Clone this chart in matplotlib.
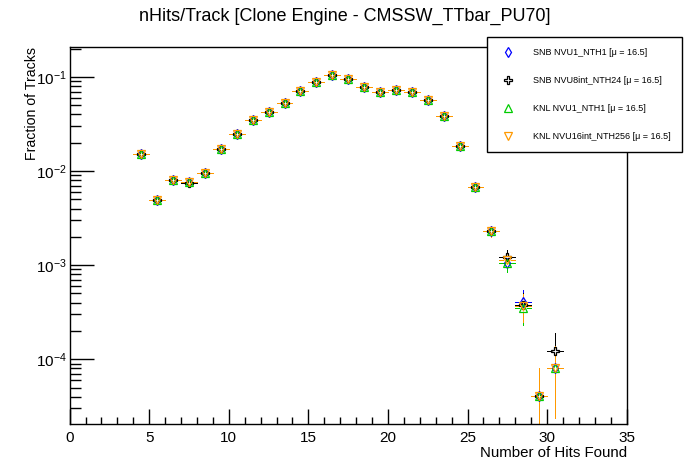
import numpy as np
import matplotlib
matplotlib.use("Agg")
import matplotlib.pyplot as plt
from matplotlib.lines import Line2D

# bin centres (number of hits found)
nhits = [4.5, 5.5, 6.5, 7.5, 8.5, 9.5, 10.5, 11.5, 12.5, 13.5, 14.5, 15.5, 16.5, 17.5,
         18.5, 19.5, 20.5, 21.5, 22.5, 23.5, 24.5, 25.5, 26.5, 27.5, 28.5, 29.5, 30.5]

snb_nvu1 = [0.0151, 0.00487, 0.00802, 0.00769, 0.00946, 0.0171, 0.0246, 0.0347, 0.0422,
            0.0525, 0.0710, 0.0878, 0.104, 0.0952, 0.0783, 0.0688, 0.0732, 0.0688, 0.0574,
            0.0385, 0.0184, 0.00676, 0.00231, 0.00105, 0.000409, 4.07e-5, 8.1e-5]
snb_nvu8 = [0.0151, 0.00487, 0.00802, 0.00745, 0.00946, 0.0171, 0.0246, 0.0347, 0.0422,
            0.0525, 0.0710, 0.0878, 0.104, 0.0952, 0.0783, 0.0688, 0.0732, 0.0688, 0.0574,
            0.0385, 0.0184, 0.00676, 0.00231, 0.00123, 0.000378, 4.07e-5, 1.22e-4]
knl_nvu1 = [0.0151, 0.00487, 0.00802, 0.00769, 0.00946, 0.0171, 0.0246, 0.0347, 0.0422,
            0.0525, 0.0710, 0.0878, 0.104, 0.0952, 0.0783, 0.0688, 0.0732, 0.0688, 0.0574,
            0.0385, 0.0184, 0.00676, 0.00231, 0.00106, 0.000351, 4.07e-5, 8.1e-5]
knl_nvu16 = [0.0151, 0.00487, 0.00802, 0.00769, 0.00946, 0.0171, 0.0246, 0.0347, 0.0422,
             0.0525, 0.0710, 0.0878, 0.104, 0.0952, 0.0783, 0.0688, 0.0732, 0.0688, 0.0574,
             0.0385, 0.0184, 0.00676, 0.00231, 0.00114, 0.000371, 4.07e-5, 8.1e-5]

# statistical errors (mostly hidden under the markers)
err_bulk = [0.00079, 0.00045, 0.00057, 0.00056, 0.00062, 0.00084, 0.0010, 0.0012, 0.0013,
            0.0015, 0.0017, 0.0019, 0.0021, 0.0020, 0.0018, 0.0017, 0.0017, 0.0017, 0.0015,
            0.0013, 0.00087, 0.00053, 0.00031]
err_snb_nvu1 = err_bulk + [0.00021, 0.000129, 4.07e-5, 5.7e-5]
err_snb_nvu8 = err_bulk + [0.000224, 0.000124, 4.07e-5, 7.0e-5]
err_knl_nvu1 = err_bulk + [0.00021, 0.000120, 4.07e-5, 5.7e-5]
err_knl_nvu16 = err_bulk + [0.000216, 0.000123, 4.07e-5, 5.7e-5]

labels = ["SNB NVU1_NTH1 [μ = 16.5]", "SNB NVU8int_NTH24 [μ = 16.5]",
          "KNL NVU1_NTH1 [μ = 16.5]", "KNL NVU16int_NTH256 [μ = 16.5]"]

plt.rcParams['font.family'] = ['Liberation Sans', 'DejaVu Sans']
plt.rcParams['mathtext.fontset'] = 'custom'
plt.rcParams['mathtext.rm'] = 'Liberation Sans'

fig = plt.figure(figsize=(6.96, 4.72), dpi=100)
ax = fig.add_axes([0.1001, 0.1017, 0.8003, 0.7994])

series = [(snb_nvu1, err_snb_nvu1, "#0000ff", "d"),
          (snb_nvu8, err_snb_nvu8, "#000000", "P"),
          (knl_nvu1, err_knl_nvu1, "#00cc00", "^"),
          (knl_nvu16, err_knl_nvu16, "#ff9900", "v")]

ms = 5.5
# error bars first, then a white blank so the bars stop at the marker, then hollow markers
for vals, errs, col, mk in series:
    eb = ax.errorbar(nhits, vals, xerr=0.5, yerr=errs, fmt="none", ecolor=col,
                     elinewidth=0.72, capsize=0, zorder=2)
    for lc in eb.lines[2]:
        lc.set_antialiased(False)
for vals, errs, col, mk in series:
    ax.plot(nhits, vals, ls="none", marker="s", ms=ms * 0.8, mfc="white", mec="none", zorder=3)
handles = []
for (vals, errs, col, mk), lab in zip(series, labels):
    ax.plot(nhits, vals, ls="none", marker=mk, ms=ms, mfc="none", mec=col, mew=0.9, zorder=4)
    handles.append(Line2D([], [], ls="none", marker=mk, ms=ms, mfc="none", mec=col,
                          mew=0.9, label=lab))

ax.set_yscale("log", nonpositive="clip")
ax.set_xlim(0, 35)
ax.set_ylim(2.05e-5, 0.21)

ax.xaxis.set_major_locator(matplotlib.ticker.MultipleLocator(5))
ax.xaxis.set_minor_locator(matplotlib.ticker.MultipleLocator(1))
ax.yaxis.set_minor_locator(matplotlib.ticker.LogLocator(base=10, subs=np.arange(2, 10)))
ax.yaxis.set_minor_formatter(matplotlib.ticker.NullFormatter())

ax.tick_params(axis="both", which="both", direction="in", top=False, right=False)
ax.tick_params(axis="x", which="major", length=11, width=1, labelsize=11, pad=5)
ax.tick_params(axis="x", which="minor", length=5, width=1)
ax.tick_params(axis="y", which="major", length=17, width=1, labelsize=11, pad=2)
ax.tick_params(axis="y", which="minor", length=8, width=1)
for sp in ax.spines.values():
    sp.set_linewidth(1)

ax.set_xlabel("Number of Hits Found", fontsize=10.8, loc="right", labelpad=1)
ax.set_ylabel("Fraction of Tracks", fontsize=10.2, loc="top")
ax.yaxis.set_label_coords(-0.055, 1.0)
fig.text(0.496, 0.965, "nHits/Track [Clone Engine - CMSSW_TTbar_PU70]",
         ha="center", va="center", fontsize=13)

leg = ax.legend(handles=handles, loc="upper left",
                bbox_to_anchor=(486.7 / 696, 1 - 37.3 / 472, 195.5 / 696, 0.0),
                bbox_transform=fig.transFigure, mode="expand",
                fontsize=6.5, frameon=True, fancybox=False, edgecolor="black",
                framealpha=1, borderpad=1.2, labelspacing=2.1, handlelength=2.4,
                handletextpad=1.5, borderaxespad=0)
leg.get_frame().set_linewidth(1)

fig.savefig("out.png", dpi=100)
